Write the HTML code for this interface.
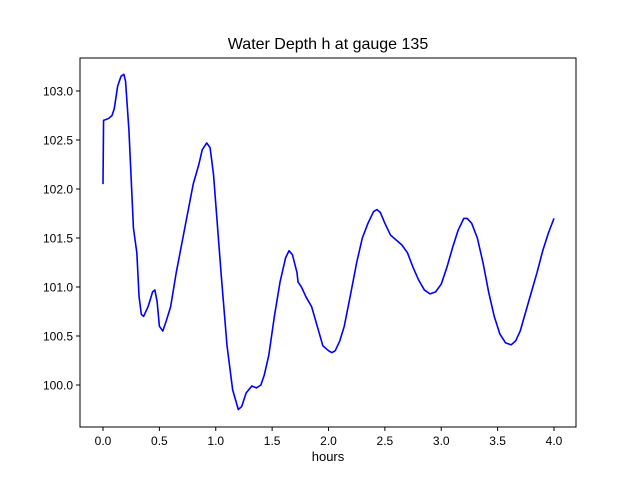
<!DOCTYPE html>
<html><head><meta charset="utf-8"><style>body{margin:0;background:#fff}svg{display:block;font-family:"Liberation Sans","DejaVu Sans",sans-serif}</style></head>
<body>
<svg id="chart" width="640" height="480">
<rect width="640" height="480" fill="#fff"/>
<text x="328" y="49" font-size="16" text-anchor="middle">Water Depth h at gauge 135</text>
<g id="axes"></g>
<text x="328" y="461" font-size="13" text-anchor="middle">hours</text>
</svg>
<script>
const times=[0.0,0.005,0.05,0.08,0.1,0.13,0.16,0.185,0.2,0.23,0.25,0.27,0.3,0.32,0.34,0.36,0.4,0.44,0.46,0.48,0.5,0.53,0.56,0.6,0.65,0.7,0.75,0.8,0.85,0.88,0.92,0.95,0.98,1.0,1.05,1.1,1.15,1.2,1.23,1.27,1.32,1.36,1.4,1.43,1.47,1.52,1.57,1.62,1.65,1.68,1.72,1.73,1.76,1.8,1.85,1.9,1.95,2.0,2.03,2.06,2.1,2.14,2.2,2.25,2.3,2.35,2.4,2.43,2.46,2.5,2.55,2.6,2.65,2.7,2.75,2.8,2.85,2.9,2.95,3.0,3.05,3.1,3.15,3.2,3.23,3.27,3.32,3.37,3.42,3.47,3.52,3.57,3.62,3.66,3.7,3.75,3.8,3.85,3.9,3.95,4.0];
const depths=[102.05,102.7,102.72,102.75,102.82,103.05,103.15,103.17,103.1,102.6,102.1,101.6,101.35,100.9,100.72,100.7,100.8,100.95,100.97,100.85,100.6,100.55,100.65,100.8,101.15,101.45,101.75,102.05,102.25,102.4,102.47,102.42,102.15,101.85,101.1,100.4,99.95,99.75,99.78,99.92,99.99,99.97,100.0,100.1,100.3,100.7,101.05,101.3,101.37,101.33,101.15,101.05,101.0,100.9,100.8,100.6,100.4,100.35,100.33,100.35,100.45,100.6,100.95,101.25,101.5,101.65,101.77,101.79,101.76,101.65,101.53,101.48,101.43,101.35,101.2,101.07,100.97,100.93,100.95,101.03,101.2,101.4,101.58,101.7,101.7,101.65,101.5,101.25,100.95,100.7,100.52,100.43,100.41,100.45,100.55,100.75,100.95,101.15,101.37,101.55,101.7];
const xTicks=["0.0","0.5","1.0","1.5","2.0","2.5","3.0","3.5","4.0"];
const yTicks=["100.0","100.5","101.0","101.5","102.0","102.5","103.0"];
const NS="http://www.w3.org/2000/svg";
const L=80,R=576,T=58,B=427;
const sx=v=>103+(v-0)*(554-103)/4;
const sy=v=>385-(v-100)*98;
const g=document.getElementById('axes');
function mk(tag,attrs){const e=document.createElementNS(NS,tag);for(const k in attrs)e.setAttribute(k,attrs[k]);g.appendChild(e);return e;}
const line=mk('polyline',{points:times.map((t,i)=>sx(t).toFixed(2)+','+sy(depths[i]).toFixed(2)).join(' '),fill:'none',stroke:'#0000ff','stroke-width':1.6,'stroke-linejoin':'round'});


const fr=mk('rect',{x:L,y:T,width:R-L,height:B-T,fill:'none',stroke:'#000','stroke-width':1});


xTicks.forEach(s=>{const x=sx(parseFloat(s));
 const t=mk('line',{x1:x,x2:x,y1:B,y2:B+4,stroke:'#000'});
 
 
 const tx=mk('text',{x:x,y:B+18,'font-size':12,'text-anchor':'middle'});tx.textContent=s;
 
 });
yTicks.forEach(s=>{const y=sy(parseFloat(s));
 const t=mk('line',{x1:L-4,x2:L,y1:y,y2:y,stroke:'#000'});
 
 
 const tx=mk('text',{x:L-7,y:y+4.5,'font-size':12,'text-anchor':'end'});tx.textContent=s;
 
 });
</script>
</body></html>
